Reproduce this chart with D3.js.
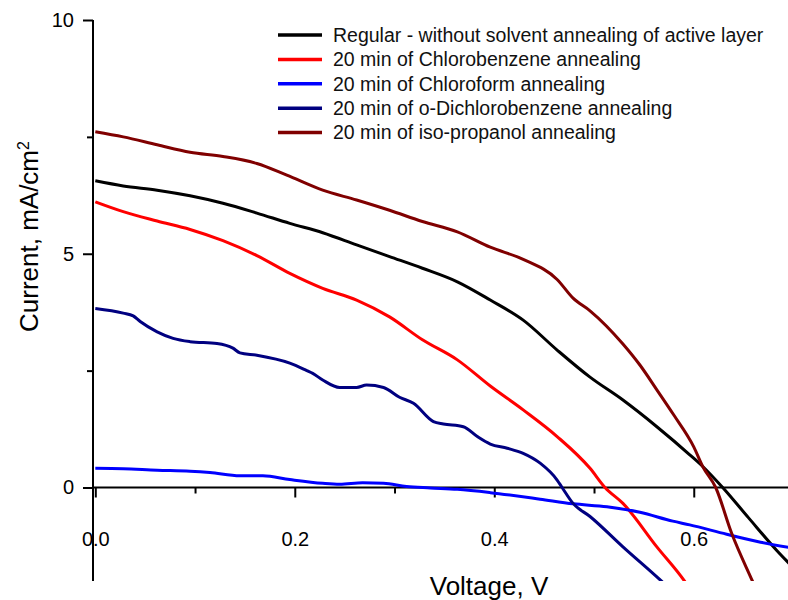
<!DOCTYPE html>
<html>
<head>
<meta charset="utf-8">
<script src="https://cdn.jsdelivr.net/npm/d3@7"></script>
<style>
  body { margin: 0; background: #fff; }
  svg { display: block; font-family: Arial, "Liberation Sans", sans-serif; }
</style>
</head>
<body>
<div id="chart"></div>
<script>
// J-V curves, [voltage (V), current (mA/cm2)]
const regular = [[0.000,6.56],[0.028,6.45],[0.062,6.36],[0.095,6.24],[0.128,6.08],[0.162,5.87],[0.195,5.65],[0.228,5.45],[0.262,5.19],[0.295,4.94],[0.328,4.69],[0.363,4.40],[0.396,4.01],[0.429,3.58],[0.463,2.94],[0.496,2.36],[0.529,1.87],[0.563,1.30],[0.596,0.70],[0.609,0.45],[0.629,0.00],[0.655,-0.65],[0.683,-1.34],[0.700,-1.72]];
const chlorobenzene = [[0.000,6.11],[0.028,5.90],[0.062,5.70],[0.095,5.52],[0.128,5.28],[0.162,4.96],[0.195,4.58],[0.228,4.26],[0.262,4.01],[0.295,3.65],[0.328,3.16],[0.363,2.73],[0.396,2.17],[0.429,1.66],[0.463,1.09],[0.496,0.41],[0.511,0.00],[0.529,-0.34],[0.563,-1.27],[0.591,-2.01],[0.600,-2.30]];
const chloroform = [[0.000,0.41],[0.028,0.40],[0.062,0.37],[0.095,0.35],[0.115,0.32],[0.145,0.25],[0.168,0.25],[0.195,0.17],[0.228,0.09],[0.245,0.07],[0.268,0.10],[0.289,0.09],[0.312,0.02],[0.336,-0.01],[0.363,-0.04],[0.396,-0.11],[0.446,-0.25],[0.479,-0.35],[0.513,-0.41],[0.546,-0.53],[0.579,-0.72],[0.596,-0.80],[0.633,-1.00],[0.667,-1.17],[0.700,-1.30]];
const dichlorobenzene = [[0.000,3.83],[0.028,3.73],[0.038,3.67],[0.045,3.55],[0.062,3.33],[0.078,3.19],[0.095,3.12],[0.122,3.08],[0.138,2.98],[0.145,2.88],[0.162,2.83],[0.195,2.66],[0.212,2.50],[0.218,2.44],[0.228,2.30],[0.245,2.14],[0.262,2.14],[0.272,2.19],[0.289,2.14],[0.305,1.93],[0.319,1.80],[0.339,1.41],[0.349,1.36],[0.369,1.30],[0.383,1.09],[0.396,0.93],[0.413,0.84],[0.429,0.73],[0.446,0.52],[0.463,0.16],[0.468,0.00],[0.479,-0.34],[0.496,-0.62],[0.529,-1.27],[0.568,-2.01],[0.580,-2.25]];
const isopropanol = [[0.000,7.61],[0.028,7.50],[0.062,7.33],[0.095,7.17],[0.128,7.08],[0.162,6.93],[0.192,6.68],[0.228,6.36],[0.262,6.15],[0.295,5.93],[0.328,5.69],[0.363,5.47],[0.396,5.14],[0.429,4.88],[0.463,4.45],[0.479,4.05],[0.496,3.78],[0.529,3.07],[0.546,2.62],[0.563,2.09],[0.580,1.55],[0.600,0.87],[0.609,0.45],[0.622,0.00],[0.638,-0.98],[0.659,-2.01],[0.665,-2.30]];

const seriesNames = [
  "Regular - without solvent annealing of active layer",
  "20 min of Chlorobenzene annealing",
  "20 min of Chloroform annealing",
  "20 min of o-Dichlorobenzene annealing",
  "20 min of iso-propanol annealing"
];
const seriesData = [regular, chlorobenzene, chloroform, dichlorobenzene, isopropanol];
const seriesColors = ["#000000", "#ff0000", "#0000ff", "#000080", "#800000"];

const xMajor = [0, 0.2, 0.4, 0.6];
const xMinor = [0.1, 0.3, 0.5];
const yMajor = [0, 5, 10];
const yMinor = [2.5, 7.5];

const width = 788, height = 600;
const axisX = 93;

const x = d3.scaleLinear().domain([0, 0.7]).range([95.3, 793.5]);
const y = d3.scaleLinear().domain([-2, 10]).range([581, 20]);

const svg = d3.select("#chart").append("svg")
    .attr("width", width)
    .attr("height", height);

// clip the curves to the plot box
svg.append("clipPath").attr("id", "plotClip")
  .append("rect")
    .attr("x", axisX).attr("y", y(10))
    .attr("width", width - axisX).attr("height", y(-2) - y(10));

// y axis
const yAxisG = svg.append("g").attr("transform", `translate(${axisX},0)`);
yAxisG.call(d3.axisLeft(y).tickValues(yMajor).tickSize(10).tickPadding(9).tickFormat(d3.format("d")));
yAxisG.append("g").call(d3.axisLeft(y).tickValues(yMinor).tickSize(6).tickFormat(""));
yAxisG.selectAll(".domain").remove();
yAxisG.append("line")
    .attr("x1", 0).attr("x2", 0)
    .attr("y1", y(10)).attr("y2", y(-2))
    .attr("stroke", "#000").attr("stroke-width", 2);

// x axis sits on zero current
const xAxisG = svg.append("g").attr("transform", `translate(0,${y(0)})`);
xAxisG.call(d3.axisBottom(x).tickValues(xMajor).tickSize(10).tickPadding(34).tickFormat(d3.format(".1f")));
xAxisG.append("g").call(d3.axisBottom(x).tickValues(xMinor).tickSize(6).tickFormat(""));
xAxisG.selectAll(".domain").remove();
xAxisG.append("line")
    .attr("x1", axisX).attr("x2", width)
    .attr("y1", 0).attr("y2", 0)
    .attr("stroke", "#000").attr("stroke-width", 2);

svg.selectAll(".tick line").attr("stroke", "#000").attr("stroke-width", 2);
svg.selectAll(".tick text")
    .attr("fill", "#000")
    .style("font-size", "20px")
    .style("font-family", "Arial, 'Liberation Sans', sans-serif");

// curves
const line = d3.line()
    .x(d => x(d[0]))
    .y(d => y(d[1]))
    .curve(d3.curveMonotoneX);

svg.append("g")
    .attr("clip-path", "url(#plotClip)")
  .selectAll("path")
  .data(seriesData)
  .join("path")
    .attr("d", line)
    .attr("fill", "none")
    .attr("stroke", (d, i) => seriesColors[i])
    .attr("stroke-width", 3)
    .attr("stroke-linejoin", "round");

// axis titles
svg.append("text")
    .attr("x", 489).attr("y", 595)
    .attr("text-anchor", "middle")
    .style("font-size", "26px")
    .text("Voltage, V");

const yTitle = svg.append("text")
    .attr("transform", "translate(38,332) rotate(-90)")
    .style("font-size", "26px");
yTitle.append("tspan").text("Current, mA/cm");
yTitle.append("tspan")
    .attr("dy", "-0.55em")
    .style("font-size", "16px")
    .text("2");

// legend
const legend = svg.append("g");
const rows = legend.selectAll("g")
  .data(seriesNames)
  .join("g")
    .attr("transform", (d, i) => `translate(278,${35 + i * 24.4})`);

rows.append("line")
    .attr("x1", 0).attr("x2", 44)
    .attr("stroke", (d, i) => seriesColors[i])
    .attr("stroke-width", 3.5);

rows.append("text")
    .attr("x", 55)
    .attr("dy", "0.35em")
    .style("font-size", "19.5px")
    .attr("fill", "#111")
    .text(d => d);
</script>
</body>
</html>
